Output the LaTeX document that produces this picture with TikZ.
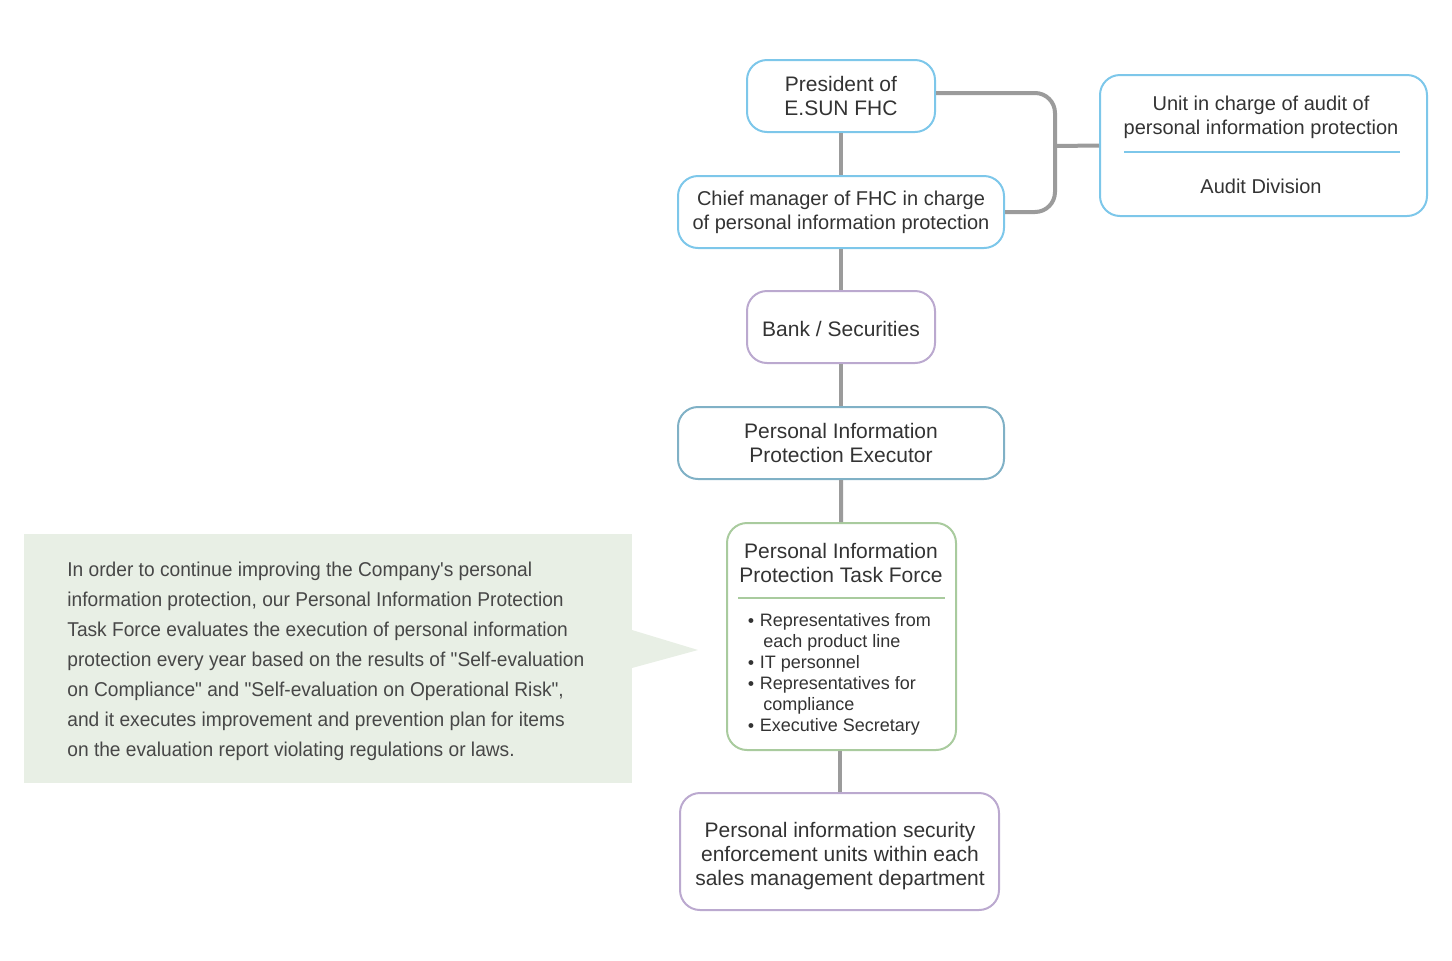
\documentclass[tikz,border=0pt]{standalone}
\usepackage{fontspec}
\setmainfont{Liberation Sans}
\newfontfamily\narrowfont[FakeStretch=0.958]{Liberation Sans}
\definecolor{skyblue}{HTML}{7DC7EA}
\definecolor{lilac}{HTML}{BBA9CF}
\definecolor{steel}{HTML}{80B1C6}
\definecolor{sage}{HTML}{A9CB9E}
\definecolor{linkgray}{HTML}{9B9B9B}
\definecolor{notegreen}{HTML}{E8EFE5}
\definecolor{txtgray}{HTML}{333333}
\newcommand{\tfdot}{\raisebox{0.3ex}{\tiny$\bullet$}}
\begin{document}
\begin{tikzpicture}[x=0.5pt,y=-0.5pt,
  unit/.style={draw=#1,line width=1pt,rounded corners=10pt,align=center,text=txtgray,
    inner sep=0pt,font=\fontsize{10.5}{12}\selectfont},
  plain/.style={align=#1,text=txtgray,inner sep=0pt},
  link/.style={draw=linkgray,line width=2pt}]
\useasboundingbox (0,0) rectangle (1452,960);
% chain of units
\node[unit=skyblue,minimum width=94pt,minimum height=36pt] (pres) at (841,96) {President of\\E.SUN FHC};
\node[unit=skyblue,minimum width=163pt,minimum height=36pt,font=\fontsize{10}{12}\selectfont] (chief) at (841,212) {Chief manager of FHC in charge\\of personal information protection};
\node[unit=lilac,minimum width=94pt,minimum height=36pt,text height=9pt,text depth=0pt] (bank) at (841,327) {Bank / Securities};
\node[unit=steel,minimum width=163pt,minimum height=36pt] (exec) at (841,443) {Personal Information\\Protection Executor};
\node[unit=sage,minimum width=114.5pt,minimum height=113.5pt] (tf) at (841.5,636.5) {};
\node[plain=center,font=\fontsize{10.5}{12}\selectfont] (tftitle) at (841,563) {Personal Information\\Protection Task Force};
\node[plain=left,anchor=north west,font=\fontsize{9}{10.5}\selectfont] (tflist) at (747,613)
  {\tfdot{} Representatives from\\\hspace*{8pt}each product line\\\tfdot{} IT personnel\\\tfdot{} Representatives for\\\hspace*{8pt}compliance\\\tfdot{} Executive Secretary};
\draw[sage,line width=1pt] (738,598) -- (945,598);
\node[unit=lilac,minimum width=159.5pt,minimum height=58.5pt] (sales) at (839.5,851.5) {};
\node[plain=center,font=\fontsize{10.5}{12}\selectfont] (salestxt) at (840,856) {Personal information security\\enforcement units within each\\sales management department};
% audit unit
\node[unit=skyblue,minimum width=163.5pt,minimum height=70.5pt] (audit) at (1263.5,145.5) {};
\node[plain=center,font=\fontsize{10}{12}\selectfont] (audtitle) at (1261,117) {Unit in charge of audit of\\personal information protection};
\node[plain=center,font=\fontsize{10}{12}\selectfont] (auddiv) at (1261,186) {Audit Division};
\draw[skyblue,line width=1pt] (1124,152) -- (1400,152);
% connectors
\draw[link] (pres) -- (chief);
\draw[link] (chief) -- (bank);
\draw[link] (bank) -- (exec);
\draw[link] (exec) -- (tf);
\draw[link] (tf.south -| sales.north) -- (sales);
\coordinate (bend) at (1055,146);
\draw[link,rounded corners=10pt] ([yshift=1.5pt]pres.east) -| (bend) |- (chief.east);
\draw[link] (bend) -- (audit.west);
% note
\fill[notegreen] (24,534) rectangle (632,783);
\fill[notegreen] (632,630) -- (698,650) -- (632,668) -- cycle;
\node[plain=left,anchor=base west,text=txtgray!90,font=\narrowfont\fontsize{10}{15}\selectfont] (note) at (67,756)
  {In order to continue improving the Company's personal\\
   information protection, our Personal Information Protection\\
   Task Force evaluates the execution of personal information\\
   protection every year based on the results of "Self-evaluation\\
   on Compliance" and "Self-evaluation on Operational Risk",\\
   and it executes improvement and prevention plan for items\\
   on the evaluation report violating regulations or laws.};
\end{tikzpicture}
\end{document}
